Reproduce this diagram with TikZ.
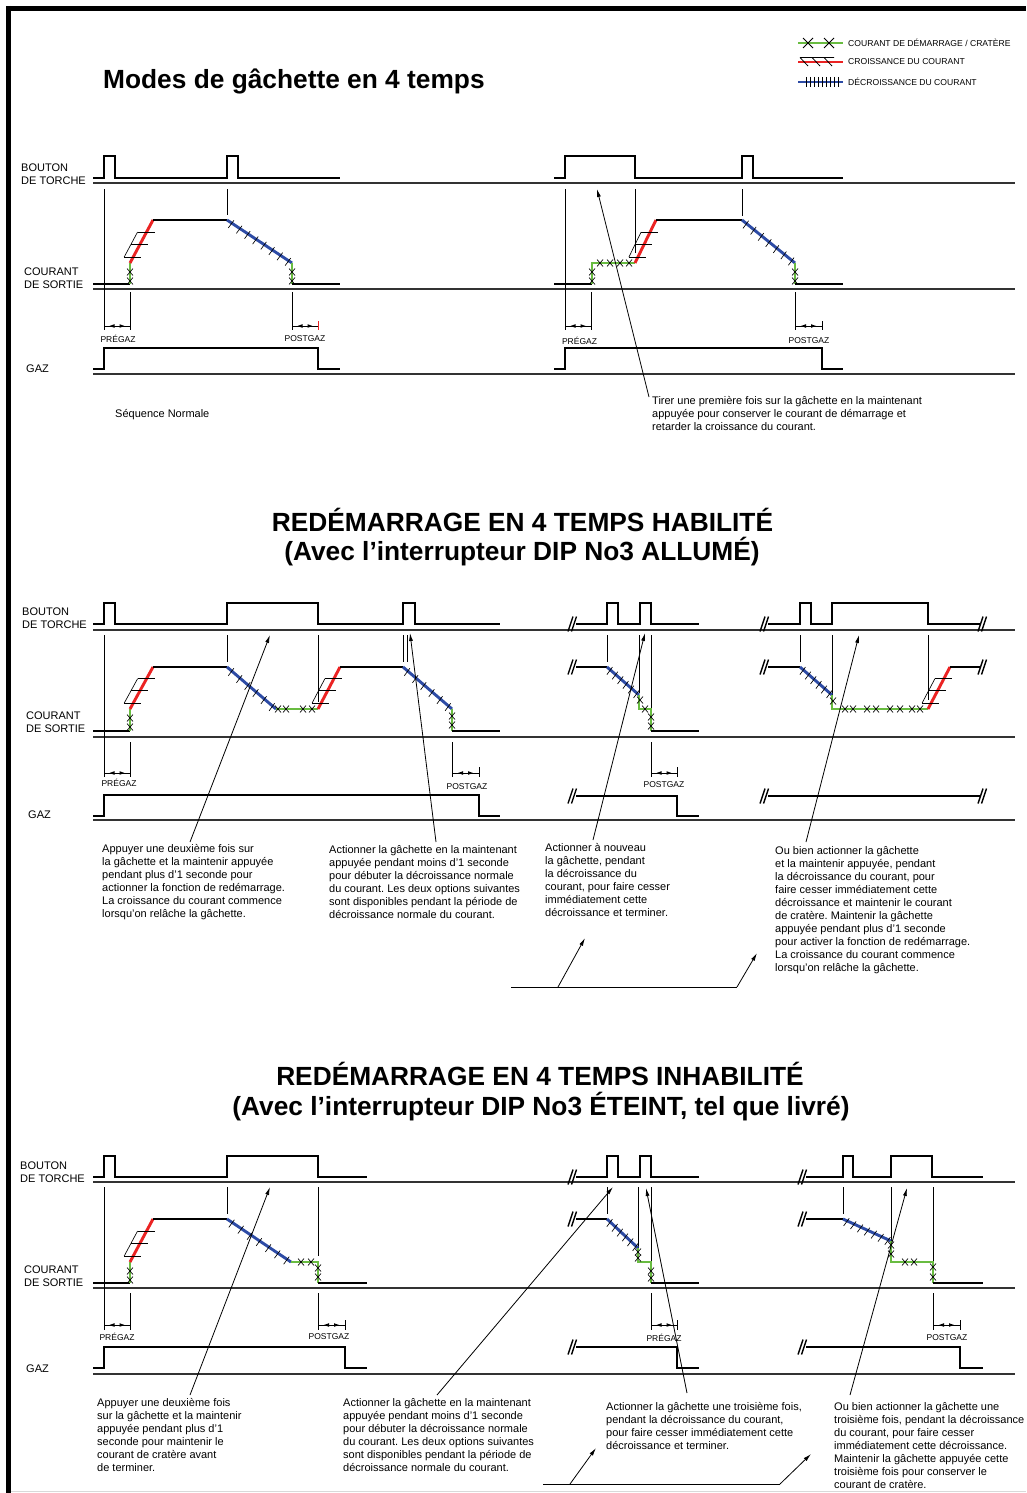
\documentclass[tikz,border=0pt]{standalone}
\usepackage{fontspec}
\setmainfont{Liberation Sans}
\frenchspacing
\usetikzlibrary{arrows.meta}
\definecolor{grn}{RGB}{105,188,65}
\definecolor{rd}{RGB}{235,35,35}
\definecolor{bl}{RGB}{45,75,165}
\tikzset{
 sig/.style={line width=2.9pt, line join=miter, line cap=butt},
 ax/.style={line width=1.1pt, black!80},
 tk/.style={line width=0.75pt},
 gr/.style={line width=2.9pt, grn},
 rr/.style={line width=2.9pt, rd},
 bb/.style={line width=2.9pt, bl},
 hatch/.style={line width=0.65pt},
 brks/.style={line width=1.4pt},
 lab/.style={font=\fontsize{11}{13}\selectfont, inner sep=0pt, align=left, anchor=west},
 note/.style={font=\fontsize{11}{13}\selectfont, inner sep=0pt, align=left, anchor=north west},
 sm/.style={font=\fontsize{8.5}{10}\selectfont, inner sep=0pt},
 leg/.style={font=\fontsize{8.6}{10}\selectfont, inner sep=0pt, anchor=west},
 ttl/.style={font=\bfseries\fontsize{26.3}{30}\selectfont, inner sep=0pt},
 arr/.style={line width=0.8pt, -{Latex[length=8pt,width=4pt]}},
}
\newcommand\xm[2]{\draw[hatch] (#1-3,#2-3.5) -- (#1+3,#2+3.5) (#1-3,#2+3.5) -- (#1+3,#2-3.5);}
\newcommand\brk[2]{\draw[brks] (#1-5,#2+7.5) -- (#1,#2-7.5) (#1-1.5,#2+7.5) -- (#1+3.5,#2-7.5);}
\newcommand\decay[5]{%
 \draw[bb] (#1,#2) -- (#3,#4);
 \foreach \i in {1,...,#5}{%
   \pgfmathsetmacro\cx{#1+((\i-0.5)/#5)*(#3-#1)}%
   \pgfmathsetmacro\cy{#2+((\i-0.5)/#5)*(#4-#2)+1.5}%
   \draw[hatch] (\cx-2.8,\cy+3.8) -- (\cx+2.8,\cy-3.8);
 }}
\newcommand\rise[4]{%
 \draw[rr] (#1,#2) -- (#3,#4);
 \foreach \f in {0.14,0.44,0.72}{%
   \pgfmathsetmacro\rx{#1+\f*(#3-#1)}%
   \pgfmathsetmacro\ry{#2+\f*(#4-#2)}%
   \draw[hatch] (\rx-9,\ry) -- (\rx+8,\ry);}
 \pgfmathsetmacro\ax{#1+0.14*(#3-#1)-9}\pgfmathsetmacro\ay{#2+0.14*(#4-#2)}%
 \pgfmathsetmacro\bx{#1+0.72*(#3-#1)-9}\pgfmathsetmacro\by{#2+0.72*(#4-#2)}%
 \draw[hatch] (\ax,\ay) -- (\bx,\by);}
\newcommand\dimar[3]{%
 \draw[tk] (#1,#3) -- (#2,#3);
 \pgfmathsetmacro\mx{(#1+#2)/2}%
 \fill (\mx-7.5,#3) -- (\mx-2.5,#3-1.8) -- (\mx-2.5,#3+1.8) -- cycle;
 \fill (\mx+7.5,#3) -- (\mx+2.5,#3-1.8) -- (\mx+2.5,#3+1.8) -- cycle;}
\newcommand\arrw[5]{%
 \coordinate (#1t) at (#2,#3); \coordinate (#1h) at (#4,#5);
 \draw[arr] (#1t) -- (#1h);}
\begin{document}
\begin{tikzpicture}[x=1pt,y=-1pt]
\fill[white] (0,0) rectangle (1026,1493);
\useasboundingbox (0,0) rectangle (1026,1493);
% frame
\draw[line width=4.5pt] (8.5,8.3) -- (1026,8.3);
\draw[line width=5pt] (8.5,6) -- (8.5,1493);
\draw[line width=0.8pt, black!15] (11,1491.5) -- (1026,1491.5);

% ---------------- title and legend
\node[ttl, anchor=west] (title) at (103,81) {Modes de gâchette en 4 temps};
\draw[gr] (798,43) -- (843,43);
\draw[hatch, line width=0.8pt] (803,38) -- (813,48) (803,48) -- (813,38) (824,38) -- (834,48) (824,48) -- (834,38);
\draw[rr] (798,62) -- (843,62);
\draw[hatch, line width=0.8pt] (800,57.5) -- (834,57.5) (800,57.5) -- (808,66) (812,57.5) -- (820,66) (824,57.5) -- (832,66);
\draw[bb] (798,82) -- (843,82);
\foreach \t in {806,810,...,838} \draw[hatch, line width=0.8pt] (\t,77) -- (\t,87);
\node[leg] (lg1) at (848,43) {COURANT DE DÉMARRAGE / CRATÈRE};
\node[leg] (lg2) at (848,62) {CROISSANCE DU COURANT};
\node[leg] (lg3) at (848,82) {DÉCROISSANCE DU COURANT};

% ================= SECTION 1
\node[lab] (bt1) at (21,174.5) {BOUTON\\DE TORCHE};
\node[lab] (co1) at (24,278) {COURANT\\DE SORTIE};
\node[lab] (gz1) at (26,369) {GAZ};
\draw[ax] (93,183) -- (1015,183);
\draw[ax] (93,289) -- (1015,289);
\draw[ax] (93,374) -- (1015,374);
% left
\draw[sig] (93,178) -| (104,156) -| (115,178) -| (227,156) -| (238,178) -- (340,178);
\draw[tk] (104,189) -- (104,330) (130,292) -- (130,330) (227,189) -- (227,215) (292,292) -- (292,330);
\draw[tk, rd] (318,321) -- (318,330);
\draw[sig] (93,284) -- (130,284);
\draw[gr] (130,284) -- (130,263);
\rise{130}{263}{153}{220}
\draw[sig] (153,220) -- (227,220);
\decay{227}{220}{292}{263}{8}
\draw[gr] (292,263) -- (292,284);
\draw[sig] (292,284) -- (340,284);
\xm{130}{272}\xm{130}{281}\xm{292}{272}\xm{292}{281}
\draw[sig] (93,369) -| (104,348) -| (318,369) -- (340,369);
\dimar{104}{130}{326}\dimar{292}{318}{326}
\node[sm] (pg1) at (118,339) {PRÉGAZ};
\node[sm] (po1) at (305,339) {POSTGAZ};
\node[lab] (seq) at (115,415) {Séquence Normale};
% right
\draw[sig] (554,178) -| (565,156) -| (635,178) -| (742,156) -| (753,178) -- (843,178);
\draw[tk] (565,189) -- (565,330) (635,189) -- (635,253) (742,189) -- (742,216) (591,292) -- (591,330) (795,292) -- (795,330) (822,321) -- (822,330);
\draw[sig] (554,284) -- (592,284);
\draw[gr] (592,284) -- (592,263) -- (635,263);
\rise{635}{263}{656}{220}
\draw[sig] (656,220) -- (742,220);
\decay{742}{220}{795}{263}{7}
\draw[gr] (795,263) -- (795,284);
\draw[sig] (795,284) -- (843,284);
\xm{592}{272}\xm{592}{281}\xm{600}{263}\xm{610}{263}\xm{620}{263}\xm{629}{263}\xm{795}{272}\xm{795}{281}
\draw[sig] (554,369) -| (565,348) -| (822,369) -- (843,369);
\dimar{565}{591}{326}\dimar{795}{822}{326}
\node[sm] (pg2) at (579.5,341) {PRÉGAZ};
\node[sm] (po2) at (809,341) {POSTGAZ};
\node[note] (t1) at (652,396) {Tirer une première fois sur la gâchette en la maintenant\\appuyée pour conserver le courant de démarrage et\\retarder la croissance du courant.};
\arrw{a1}{649}{397}{597}{189}

% ================= SECTION 2
\node[ttl] (h2a) at (522.5,520) {REDÉMARRAGE EN 4 TEMPS HABILITÉ};
\node[ttl] (h2b) at (522,552) {(Avec l’interrupteur DIP No3 ALLUMÉ)};
\node[lab] (bt2) at (22,618.5) {BOUTON\\DE TORCHE};
\node[lab] (co2) at (26,722) {COURANT\\DE SORTIE};
\node[lab] (gz2) at (28,815) {GAZ};
\draw[ax] (93,630) -- (1015,630);
\draw[ax] (93,737) -- (1015,737);
\draw[ax] (93,820) -- (1015,820);
% left
\draw[sig] (93,624) -| (104,603) -| (115,624) -| (227,603) -| (318,624) -| (403,603) -| (415,624) -- (500,624);
\draw[tk] (104,635) -- (104,777) (227,635) -- (227,662) (318,635) -- (318,702) (403,635) -- (403,662) (407,635) -- (407,662) (130,742) -- (130,777) (452,742) -- (452,777) (479,767) -- (479,777);
\draw[sig] (93,731) -- (130,731);
\draw[gr] (130,731) -- (130,709);
\rise{130}{709}{153}{667}
\draw[sig] (153,667) -- (227,667);
\decay{227}{667}{276}{709}{6}
\draw[gr] (276,709) -- (318,709);
\rise{318}{709}{340}{667}
\draw[sig] (340,667) -- (403,667);
\decay{403}{667}{452}{709}{6}
\draw[gr] (452,709) -- (452,731);
\draw[sig] (452,731) -- (500,731);
\xm{130}{718}\xm{130}{727}\xm{278}{709}\xm{286}{709}\xm{303}{709}\xm{312}{709}\xm{452}{716}\xm{452}{725}
\draw[sig] (93,816) -| (104,795) -| (479,816) -- (500,816);
\dimar{104}{130}{773}\dimar{452}{479}{773}
\node[sm] (pg3) at (119,783) {PRÉGAZ};
\node[sm] (po3) at (467,787) {POSTGAZ};
\node[note] (t2) at (102,844) {Appuyer une deuxième fois sur\\la gâchette et la maintenir appuyée\\pendant plus d’1 seconde pour\\actionner la fonction de redémarrage.\\La croissance du courant commence\\lorsqu’on relâche la gâchette.};
\node[note] (t3) at (329,845) {Actionner la gâchette en la maintenant\\appuyée pendant moins d’1 seconde\\pour débuter la décroissance normale\\du courant. Les deux options suivantes\\sont disponibles pendant la période de\\décroissance normale du courant.};
\arrw{a2}{190}{842}{270}{635}
\arrw{a3}{436}{842}{410}{633}
% panel A
\brk{573}{624}\brk{573}{667}\brk{573}{796}
\draw[sig] (576,624) -| (607,603) -| (618,624) -| (640,603) -| (651,624) -- (699,624);
\draw[tk] (607,635) -- (607,662) (639,635) -- (639,693) (651,635) -- (651,730) (651,742) -- (651,777) (677,767) -- (677,777);
\draw[sig] (576,667) -- (607,667);
\decay{607}{667}{639}{695}{6}
\draw[gr] (639,695) -- (639,709) -- (651,709) -- (651,731);
\draw[sig] (651,731) -- (699,731);
\xm{640}{700}\xm{645}{709}\xm{651}{717}\xm{651}{726}
\draw[sig] (576,796) -| (677,816) -- (699,816);
\dimar{651}{677}{773}
\node[sm] (po4) at (664,785) {POSTGAZ};
\node[note] (t4) at (545,843) {Actionner à nouveau\\la gâchette, pendant\\la décroissance du\\courant, pour faire cesser\\immédiatement cette\\décroissance et terminer.};
\arrw{a4}{593}{840}{645}{633}
% panel B
\brk{765}{624}\brk{765}{667}\brk{765}{796}\brk{983}{624}\brk{983}{667}\brk{983}{796}
\draw[sig] (768,624) -| (800,603) -| (811,624) -| (832,603) -| (928,624) -- (980,624);
\draw[tk] (800,635) -- (800,662) (832,635) -- (832,700) (928,635) -- (928,700);
\draw[sig] (768,667) -- (800,667);
\decay{800}{667}{832}{695}{6}
\draw[gr] (832,695) -- (832,709) -- (928,709);
\rise{928}{709}{950}{667}
\draw[sig] (950,667) -- (980,667);
\xm{833}{701}\xm{845}{709}\xm{853}{709}\xm{867}{709}\xm{876}{709}\xm{890}{709}\xm{900}{709}\xm{912}{709}\xm{920}{709}
\draw[sig] (768,796) -- (980,796);
\node[note] (t5) at (775,846) {Ou bien actionner la gâchette\\et la maintenir appuyée, pendant\\la décroissance du courant, pour\\faire cesser immédiatement cette\\décroissance et maintenir le courant\\de cratère. Maintenir la gâchette\\appuyée pendant plus d’1 seconde\\pour activer la fonction de redémarrage.\\La croissance du courant commence\\lorsqu’on relâche la gâchette.};
\arrw{a5}{806}{842}{859}{635}
% bracket
\coordinate (b1l) at (511,987); \coordinate (b1r) at (737,987);
\draw[tk] (b1l) -- (b1r);
\arrw{a6}{558}{987}{585}{938}
\arrw{a7}{737}{987}{757}{953}

% ================= SECTION 3
\node[ttl] (h3a) at (540,1074) {REDÉMARRAGE EN 4 TEMPS INHABILITÉ};
\node[ttl] (h3b) at (541,1107) {(Avec l’interrupteur DIP No3 ÉTEINT, tel que livré)};
\node[lab] (bt3) at (20,1172.5) {BOUTON\\DE TORCHE};
\node[lab] (co3) at (24,1276.5) {COURANT\\DE SORTIE};
\node[lab] (gz3) at (26,1369) {GAZ};
\draw[ax] (93,1182) -- (1015,1182);
\draw[ax] (93,1288) -- (1015,1288);
\draw[ax] (93,1374) -- (1015,1374);
% left
\draw[sig] (93,1177) -| (104,1156) -| (115,1177) -| (227,1156) -| (318,1177) -- (367,1177);
\draw[tk] (104,1187) -- (104,1330) (227,1187) -- (227,1214) (318,1187) -- (318,1256) (130,1293) -- (130,1330) (318,1293) -- (318,1330) (345,1320) -- (345,1330);
\draw[sig] (93,1283) -- (130,1283);
\draw[gr] (130,1283) -- (130,1262);
\rise{130}{1262}{153}{1219}
\draw[sig] (153,1219) -- (227,1219);
\decay{227}{1219}{291}{1262}{7}
\draw[gr] (291,1262) -- (318,1262) -- (318,1283);
\draw[sig] (318,1283) -- (367,1283);
\xm{130}{1271}\xm{130}{1280}\xm{301}{1262}\xm{311}{1262}\xm{318}{1268}\xm{318}{1277}
\draw[sig] (93,1368) -| (104,1347) -| (345,1368) -- (367,1368);
\dimar{104}{130}{1325}\dimar{318}{345}{1325}
\node[sm] (pg5) at (117,1337) {PRÉGAZ};
\node[sm] (po5) at (329,1337) {POSTGAZ};
\node[note] (t6) at (97,1398) {Appuyer une deuxième fois\\sur la gâchette et la maintenir\\appuyée pendant plus d’1\\seconde pour maintenir le\\courant de cratère avant\\de terminer.};
\node[note] (t7) at (343,1398) {Actionner la gâchette en la maintenant\\appuyée pendant moins d’1 seconde\\pour débuter la décroissance normale\\du courant. Les deux options suivantes\\sont disponibles pendant la période de\\décroissance normale du courant.};
\arrw{a8}{190}{1395}{270}{1187}
\arrw{a9}{437}{1395}{613}{1187}
% panel A
\brk{573}{1177}\brk{573}{1219}\brk{573}{1347}
\draw[sig] (576,1177) -| (607,1156) -| (618,1177) -| (640,1156) -| (651,1177) -- (699,1177);
\draw[tk] (607,1187) -- (607,1214) (638,1187) -- (638,1250) (651,1187) -- (651,1262) (651,1293) -- (651,1330) (677,1320) -- (677,1330);
\draw[sig] (576,1219) -- (607,1219);
\decay{607}{1219}{638}{1248}{6}
\draw[gr] (638,1248) -- (638,1262) -- (651,1262) -- (651,1283);
\draw[sig] (651,1283) -- (699,1283);
\xm{638}{1252}\xm{638}{1258}\xm{651}{1271}\xm{651}{1278}
\draw[sig] (576,1347) -| (677,1368) -- (699,1368);
\dimar{651}{677}{1325}
\node[sm] (pg6) at (664,1338) {PRÉGAZ};
\node[note] (t8) at (606,1402) {Actionner la gâchette une troisième fois,\\pendant la décroissance du courant,\\pour faire cesser immédiatement cette\\décroissance et terminer.};
\arrw{a10}{687}{1393}{646}{1188}
% panel B
\brk{803}{1177}\brk{803}{1219}\brk{803}{1347}
\draw[sig] (806,1177) -| (843,1156) -| (853,1177) -| (891,1156) -| (932,1177) -- (983,1177);
\draw[tk] (843,1187) -- (843,1214) (891,1187) -- (891,1241) (933,1187) -- (933,1262) (933,1293) -- (933,1330) (960,1320) -- (960,1330);
\draw[sig] (806,1219) -- (843,1219);
\decay{843}{1219}{891}{1241}{7}
\draw[gr] (891,1241) -- (891,1262) -- (933,1262) -- (933,1283);
\draw[sig] (933,1283) -- (983,1283);
\xm{891}{1245}\xm{891}{1254}\xm{905}{1262}\xm{914}{1262}\xm{933}{1267}\xm{933}{1277}
\draw[sig] (806,1347) -| (960,1368) -- (983,1368);
\dimar{933}{960}{1325}
\node[sm] (po6) at (947,1338) {POSTGAZ};
\node[note] (t9) at (834,1402) {Ou bien actionner la gâchette une\\troisième fois, pendant la décroissance\\du courant, pour faire cesser\\immédiatement cette décroissance.\\Maintenir la gâchette appuyée cette\\troisième fois pour conserver le\\courant de cratère.};
\arrw{a11}{850}{1395}{907}{1188}
% bracket
\coordinate (b2l) at (543,1484); \coordinate (b2r) at (780,1484);
\draw[tk] (b2l) -- (b2r);
\arrw{a12}{570}{1484}{596}{1448}
\arrw{a13}{780}{1484}{811}{1454}
\end{tikzpicture}
\end{document}
